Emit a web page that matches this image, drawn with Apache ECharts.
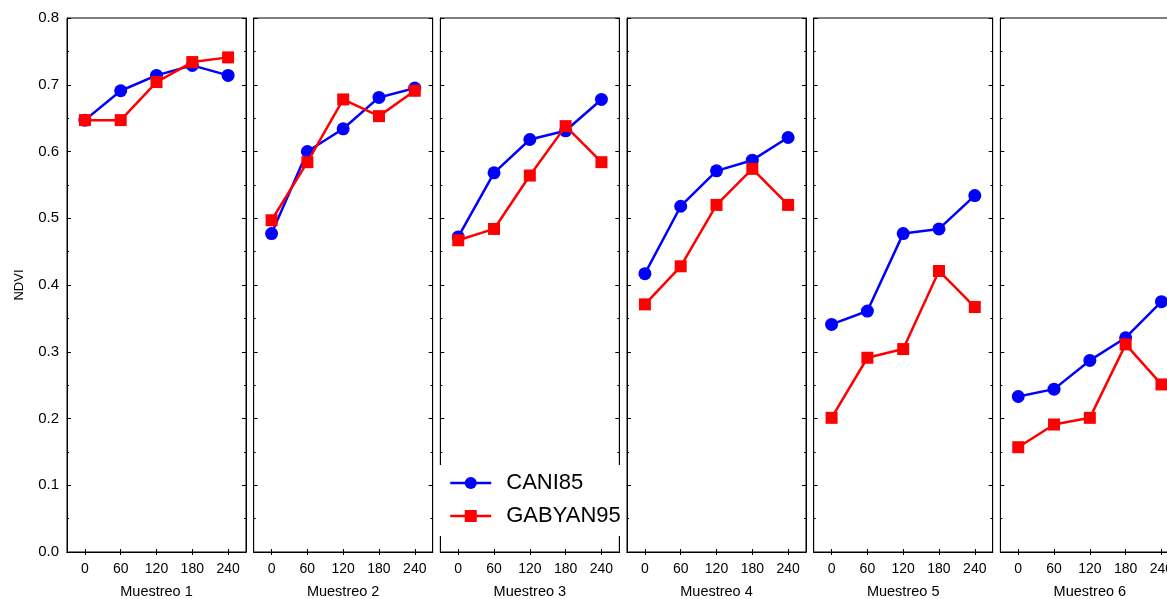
<!DOCTYPE html>
<html>
<head>
<meta charset="utf-8">
<script src="https://cdn.jsdelivr.net/npm/echarts@6/dist/echarts.min.js"></script>
<style>
html,body{margin:0;padding:0;background:#fff;}
#chart{width:1167px;height:599px;}
</style>
</head>
<body>
<div id="chart"></div>
<script>
// ---- data ----
const categories = ['0', '60', '120', '180', '240'];
const panelNames = ['Muestreo 1', 'Muestreo 2', 'Muestreo 3', 'Muestreo 4', 'Muestreo 5', 'Muestreo 6'];
const yTicks = [0, 0.1, 0.2, 0.3, 0.4, 0.5, 0.6, 0.7, 0.8];
const seriesNames = ['CANI85', 'GABYAN95'];

const cani85M1 = [0.647, 0.691, 0.714, 0.729, 0.714];
const cani85M2 = [0.477, 0.600, 0.634, 0.681, 0.695];
const cani85M3 = [0.472, 0.568, 0.618, 0.631, 0.678];
const cani85M4 = [0.417, 0.518, 0.571, 0.587, 0.621];
const cani85M5 = [0.341, 0.361, 0.477, 0.484, 0.534];
const cani85M6 = [0.233, 0.244, 0.287, 0.321, 0.375];

const gabyan95M1 = [0.647, 0.647, 0.704, 0.734, 0.741];
const gabyan95M2 = [0.497, 0.584, 0.678, 0.653, 0.691];
const gabyan95M3 = [0.467, 0.484, 0.564, 0.638, 0.584];
const gabyan95M4 = [0.371, 0.428, 0.520, 0.574, 0.520];
const gabyan95M5 = [0.201, 0.291, 0.304, 0.421, 0.367];
const gabyan95M6 = [0.157, 0.191, 0.201, 0.311, 0.251];

const cani85 = [cani85M1, cani85M2, cani85M3, cani85M4, cani85M5, cani85M6];
const gabyan95 = [gabyan95M1, gabyan95M2, gabyan95M3, gabyan95M4, gabyan95M5, gabyan95M6];

// ---- layout ----
const FONT = 'Liberation Sans, Arial, sans-serif';
const gridLeft0 = 67, gridStep = 186.67, gridW = 179, gridTop = 18, gridH = 534;
const BLUE = '#0000ff', RED = '#ff0000';

const grids = [], xAxes = [], yAxes = [], series = [];
for (let i = 0; i < 6; i++) {
  grids.push({
    left: gridLeft0 + i * gridStep, top: gridTop, width: gridW, height: gridH,
    outerBoundsMode: 'none', containLabel: false,
    show: true, borderColor: '#000', borderWidth: 1, backgroundColor: 'transparent'
  });
  xAxes.push({
    type: 'category', gridIndex: i, data: categories, position: 'bottom',
    boundaryGap: true,
    axisLine: { show: true, lineStyle: { color: '#000', width: 1 } },
    axisTick: { show: true, inside: true, alignWithLabel: true, length: 3, lineStyle: { color: '#000' } },
    axisLabel: { color: '#000', fontSize: 14, fontFamily: FONT, margin: 10, interval: 0, hideOverlap: false },
    splitLine: { show: false },
    name: panelNames[i], nameLocation: 'middle', nameGap: 32,
    nameTextStyle: { color: '#000', fontSize: 14.5, fontFamily: FONT }
  });
  xAxes.push({
    type: 'category', gridIndex: i, data: categories, position: 'top',
    boundaryGap: true,
    axisLine: { show: true, lineStyle: { color: '#000', width: 1 } },
    axisTick: { show: true, inside: true, alignWithLabel: true, length: 3, lineStyle: { color: '#000' } },
    axisLabel: { show: false }, splitLine: { show: false }
  });
  const yBase = {
    type: 'value', gridIndex: i, min: yTicks[0], max: yTicks[yTicks.length - 1], interval: 0.1,
    axisLine: { show: true, lineStyle: { color: '#000', width: 1 } },
    axisTick: { show: true, inside: true, length: 4, lineStyle: { color: '#000' } },
    minorTick: { show: true, splitNumber: 2, length: 2, lineStyle: { color: '#000' } },
    splitLine: { show: false }, minorSplitLine: { show: false }
  };
  yAxes.push(Object.assign({}, yBase, {
    position: 'left',
    axisLabel: i === 0 ? { show: true, color: '#000', fontSize: 15, fontFamily: FONT, margin: 8,
      formatter: v => v.toFixed(1) } : { show: false },
    name: i === 0 ? 'NDVI' : '', nameLocation: 'middle', nameGap: 41,
    nameTextStyle: { color: '#000', fontSize: 13, fontFamily: FONT }
  }));
  yAxes.push(Object.assign({}, yBase, { position: 'right', axisLabel: { show: false } }));

  series.push({
    name: seriesNames[0], type: 'line', xAxisIndex: 2 * i, yAxisIndex: 2 * i,
    data: cani85[i], symbol: 'circle', symbolSize: 13,
    lineStyle: { color: BLUE, width: 2.5 }, itemStyle: { color: BLUE },
    z: 3, animation: false
  });
  series.push({
    name: seriesNames[1], type: 'line', xAxisIndex: 2 * i, yAxisIndex: 2 * i,
    data: gabyan95[i], symbol: 'rect', symbolSize: 12,
    lineStyle: { color: RED, width: 2.5 }, itemStyle: { color: RED },
    z: 4, animation: false
  });
}

const chart = echarts.init(document.getElementById('chart'), null, { renderer: 'canvas' });
chart.setOption({
  animation: false,
  backgroundColor: '#fff',
  grid: grids, xAxis: xAxes, yAxis: yAxes, series: series,
  legend: {
    data: seriesNames, orient: 'vertical', left: 438, top: 465,
    backgroundColor: '#fff', padding: [7, 2, 9, 11], itemGap: 11,
    itemWidth: 41, itemHeight: 15,
    lineStyle: { width: 2.5 },
    textStyle: { color: '#000', fontSize: 22, fontFamily: FONT, padding: [0, 0, 0, 10] },
    z: 10
  }
});
</script>
</body>
</html>
